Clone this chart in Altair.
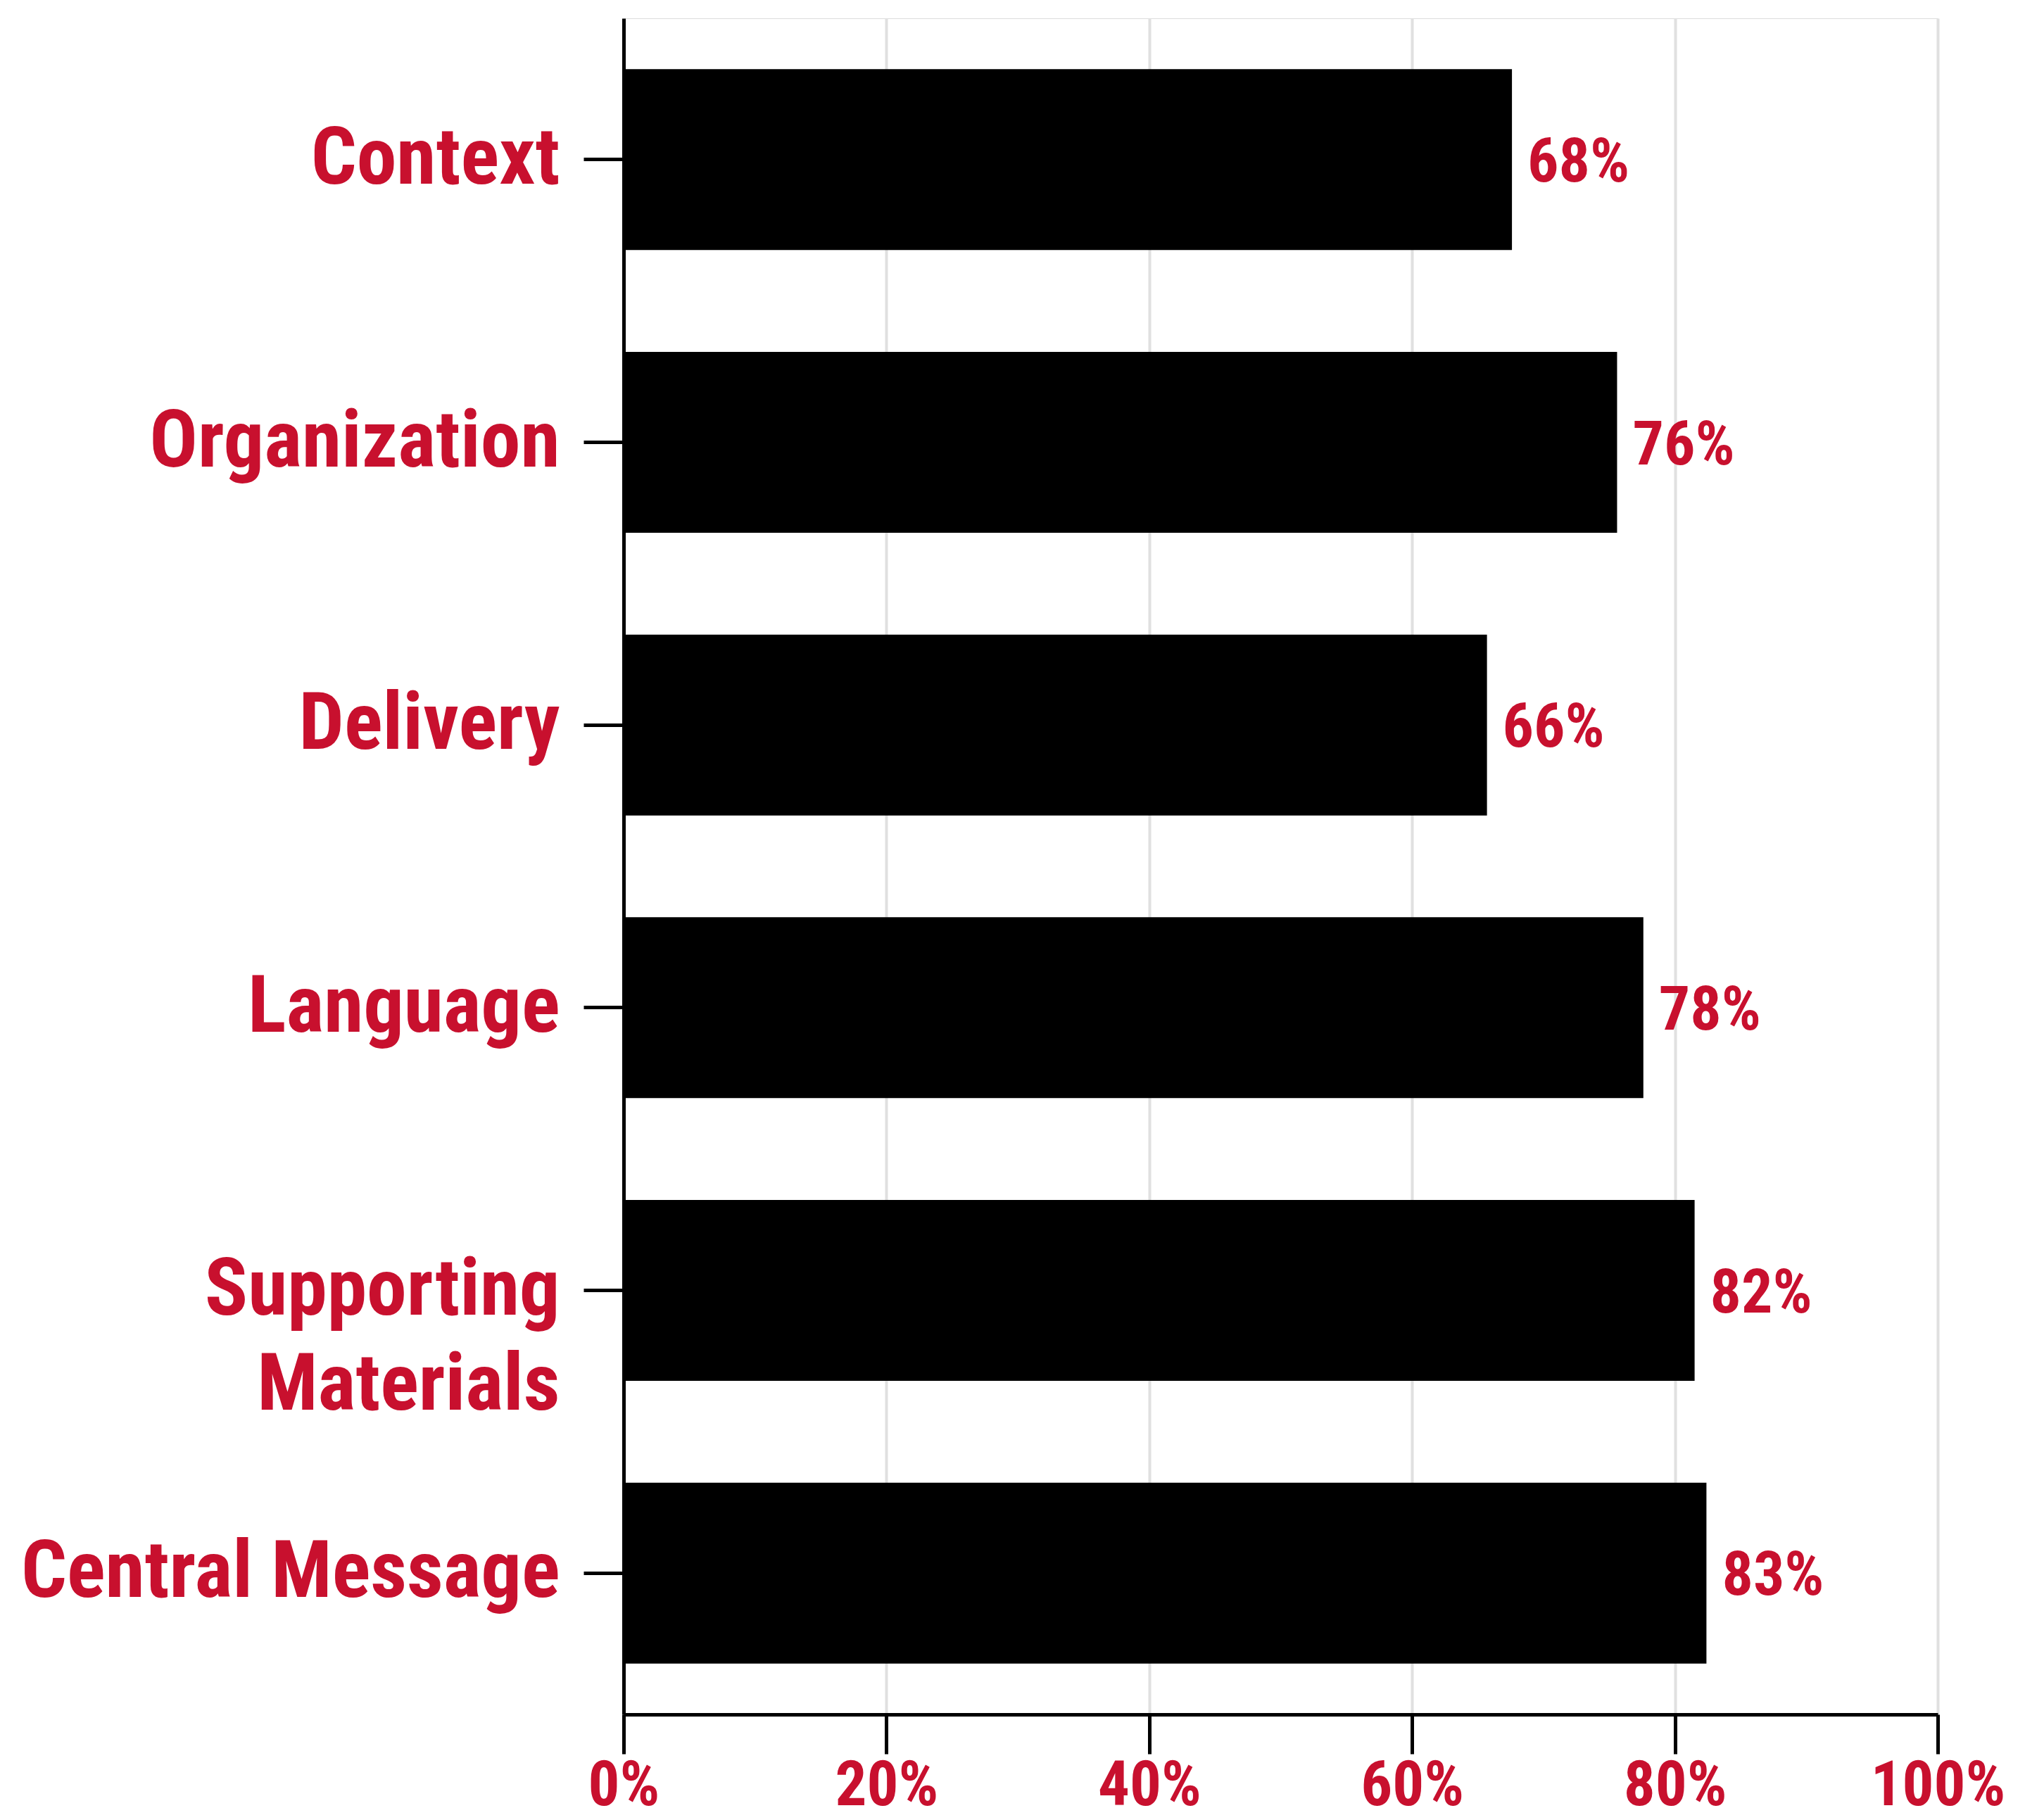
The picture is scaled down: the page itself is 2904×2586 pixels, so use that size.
import altair as alt
import pandas as pd

categories = ["Context", "Organization", "Delivery", "Language", "Supporting Materials", "Central Message"]
values = [67.6, 75.6, 65.7, 77.6, 81.5, 82.4]
labels = ["68%", "76%", "66%", "78%", "82%", "83%"]
x_ticks = [0, 20, 40, 60, 80, 100]

RED = "#C8102E"
FONT = "Roboto Condensed, Liberation Sans Narrow, Roboto, sans-serif"

df = pd.DataFrame({"category": categories, "value": values, "label": labels})

y_enc = alt.Y(
    "category:N",
    sort=categories,
    title=None,
    scale=alt.Scale(paddingInner=0.36, paddingOuter=0.18),
    axis=alt.Axis(
        domainColor="black", domainWidth=5,
        tickColor="black", tickWidth=5, tickSize=57,
        labelFont=FONT, labelFontSize=114, labelFontWeight="bold",
        labelColor=RED, labelPadding=34, labelLimit=1000,
        labelLineHeight=135,
        labelExpr="datum.label == 'Supporting Materials' ? ['Supporting', 'Materials'] : datum.label",
        grid=False,
    ),
)

x_enc = alt.X(
    "value:Q",
    title=None,
    scale=alt.Scale(domain=[0, 100], nice=False),
    axis=alt.Axis(
        values=x_ticks,
        labelExpr="datum.value + '%'",
        domainColor="black", domainWidth=5,
        tickColor="black", tickWidth=5, tickSize=56,
        labelFont=FONT, labelFontSize=89, labelFontWeight="bold",
        labelColor=RED, labelPadding=2, labelLimit=1000,
        grid=True, gridColor="#e0e0e0", gridWidth=4,
        labelFlush=False, labelOverlap=False,
    ),
)

bars = alt.Chart(df).mark_bar(color="black").encode(x=x_enc, y=y_enc)

text = alt.Chart(df).mark_text(
    align="left", baseline="middle", dx=22, dy=5,
    font=FONT, fontSize=88, fontWeight="bold", color=RED,
).encode(
    x=alt.X("value:Q"),
    y=alt.Y("category:N", sort=categories),
    text="label:N",
)

chart = (bars + text).properties(
    width=1867,
    height=2410,
    padding={"left": 21, "top": 18, "right": 10, "bottom": 0},
).configure_view(stroke=None).configure(background="white")

chart.save("out.html", embed_options={"renderer": "svg", "actions": False})
